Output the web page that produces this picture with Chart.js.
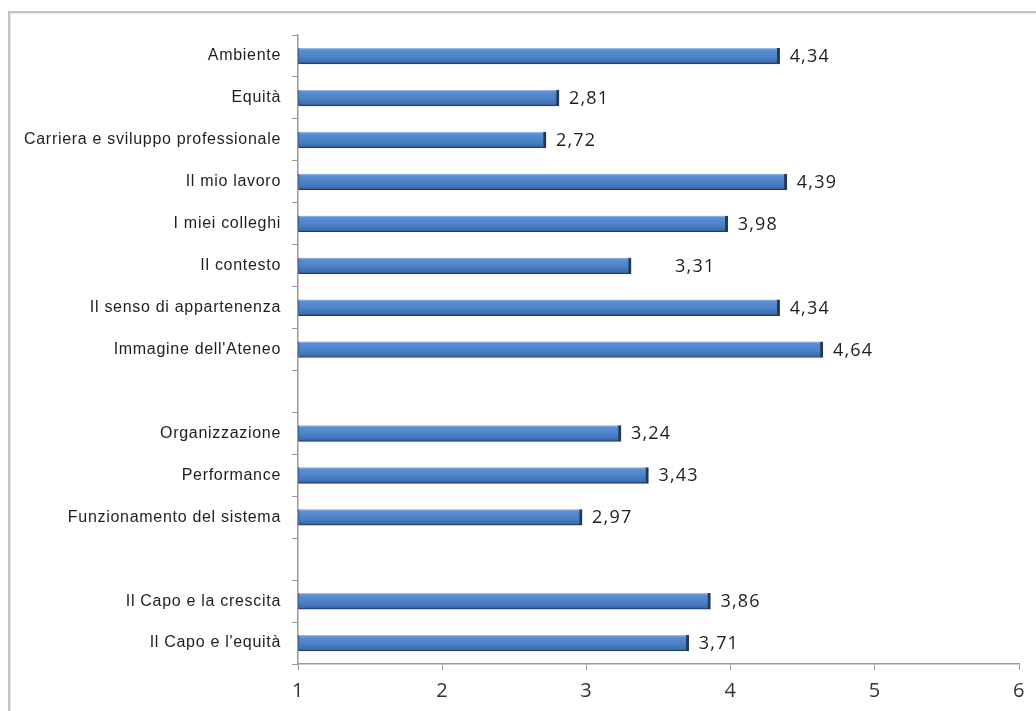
<!DOCTYPE html>
<html lang="it">
<head>
<meta charset="utf-8">
<title>Punteggi medi per area</title>
<script src="https://cdn.jsdelivr.net/npm/chart.js@4/dist/chart.umd.min.js"></script>
<style>
  html, body { margin: 0; padding: 0; background: #fff; }
  #wrap { position: relative; width: 1036px; height: 711px; overflow: hidden; }
  #frame {
    position: absolute; left: 8px; top: 11px; width: 1100px; height: 800px;
    border-left: 2px solid #c4c4c4; border-top: 2px solid #c4c4c4;
    box-shadow: inset 1px 1px 0 #ececec;
  }
  canvas { position: absolute; left: 0; top: 0; }
</style>
</head>
<body>
<div id="wrap">
  <div id="frame"></div>
  <canvas id="chart" width="1036" height="711"></canvas>
</div>
<script>
// Survey areas, top to bottom; empty entries separate the three groups
const categories = [
  'Ambiente',
  'Equità',
  'Carriera e sviluppo professionale',
  'Il mio lavoro',
  'I miei colleghi',
  'Il contesto',
  'Il senso di appartenenza',
  "Immagine dell'Ateneo",
  '',
  'Organizzazione',
  'Performance',
  'Funzionamento del sistema',
  '',
  'Il Capo e la crescita',
  "Il Capo e l'equità"
];

// Mean score per area (scale 1–6)
const scores = [4.34, 2.81, 2.72, 4.39, 3.98, 3.31, 4.34, 4.64, null, 3.24, 3.43, 2.97, null, 3.86, 3.71];

// Value axis ticks
const axisTicks = [1, 2, 3, 4, 5, 6];

const AXIS_GREY = '#9a9a9a';

// Vertical shading on each bar: light top edge, darker bottom edge
const barShading = {
  id: 'barShading',
  beforeDatasetsDraw(chart) {
    const ctx = chart.ctx;
    chart.getDatasetMeta(0).data.forEach(bar => {
      if (bar.skip || bar.y == null) return;
      const h = bar.height;
      const g = ctx.createLinearGradient(0, bar.y - h / 2, 0, bar.y + h / 2);
      g.addColorStop(0, '#a9c4ea');
      g.addColorStop(0.12, '#5b8ed3');
      g.addColorStop(0.55, '#4c82c8');
      g.addColorStop(0.85, '#3f70b2');
      g.addColorStop(1, '#2b5288');
      bar.options.backgroundColor = g;
    });
  }
};

// Numeric value printed after the end of each bar, with decimal comma
const valueLabels = {
  id: 'valueLabels',
  afterDatasetsDraw(chart, args, opts) {
    const ctx = chart.ctx;
    const data = chart.data.datasets[0].data;
    ctx.save();
    ctx.font = opts.font;
    ctx.fillStyle = opts.color;
    ctx.letterSpacing = opts.letterSpacing;
    ctx.textAlign = 'left';
    ctx.textBaseline = 'middle';
    chart.getDatasetMeta(0).data.forEach((bar, i) => {
      const v = data[i];
      if (v == null) return;
      const extra = (opts.extraOffset && opts.extraOffset[i]) || 0;
      ctx.fillText(v.toFixed(2).replace('.', ','), bar.x + opts.gap + extra, bar.y + 1);
    });
    ctx.restore();
  }
};

// Slightly tracked text for the axis labels
const tracking = {
  id: 'tracking',
  beforeDraw(chart, args, opts) { chart.ctx.letterSpacing = opts.spacing; },
  afterDraw(chart) { chart.ctx.letterSpacing = '0px'; }
};

new Chart(document.getElementById('chart'), {
  type: 'bar',
  data: {
    labels: categories,
    datasets: [{
      data: scores,
      base: 1,
      barThickness: 16,
      backgroundColor: () => '#4c82c8',
      borderColor: '#1d3a64',
      borderWidth: { top: 0, bottom: 1, left: 1, right: 3 },
      borderSkipped: false
    }]
  },
  options: {
    indexAxis: 'y',
    responsive: false,
    animation: false,
    layout: { padding: { top: 35, right: 17, left: 0, bottom: 0 } },
    scales: {
      x: {
        type: 'linear',
        min: 1,
        max: 6,
        afterBuildTicks(scale) { scale.ticks = axisTicks.map(v => ({ value: v })); },
        afterFit(scale) { scale.height = 47; },
        grid: { drawOnChartArea: false, drawTicks: true, tickLength: 6, color: AXIS_GREY },
        border: { color: AXIS_GREY, width: 1.5 },
        ticks: {
          padding: 9,
          color: '#333',
          font: { family: 'Open Sans', size: 20 },
          maxRotation: 0
        }
      },
      y: {
        type: 'category',
        afterFit(scale) { scale.width = 298; },
        grid: { drawOnChartArea: false, offset: true, tickLength: 6, color: AXIS_GREY },
        border: { color: AXIS_GREY, width: 1.5 },
        ticks: {
          padding: 11,
          color: '#1e1e1e',
          font: { family: "'Liberation Sans', Arial, sans-serif", size: 16 },
          autoSkip: false
        }
      }
    },
    plugins: {
      legend: { display: false },
      tooltip: { enabled: false },
      tracking: { spacing: '0.7px' },
      valueLabels: {
        font: '18px "Open Sans"',
        color: '#1e1e1e',
        letterSpacing: '1.2px',
        gap: 10,
        extraOffset: { 5: 34 }
      }
    }
  },
  plugins: [tracking, barShading, valueLabels]
});
</script>
</body>
</html>
